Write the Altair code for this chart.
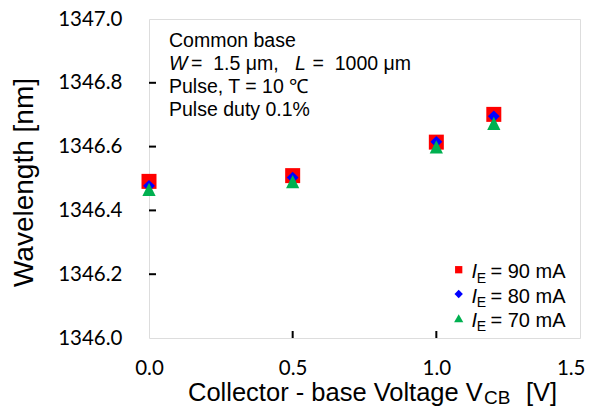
import altair as alt
import pandas as pd

# ---- data ----
vcb = [0.0, 0.5, 1.0, 1.2]
wl_90 = [1346.491, 1346.509, 1346.614, 1346.701]
wl_80 = [1346.477, 1346.503, 1346.615, 1346.695]
wl_70 = [1346.466, 1346.490, 1346.599, 1346.673]
series_labels = ["= 90 mA", "= 80 mA", "= 70 mA"]
colors = ["#FF0000", "#0000FF", "#00B050"]
y_ticks = [1346.0, 1346.2, 1346.4, 1346.6, 1346.8, 1347.0]
x_ticks = [0.0, 0.5, 1.0, 1.5]
notes = ["Common base", "Pulse, T = 10 \u2103", "Pulse duty 0.1%"]

W, H = 431, 319
FONT = "Liberation Sans"
TICKFONT = "Lato"
NB = "\u00a0"

xs = alt.Scale(domain=[0, 1.5], nice=False, zero=False)
ys = alt.Scale(domain=[1346.0, 1347.0], nice=False, zero=False)
x_axis = alt.Axis(values=x_ticks, format=".1f", ticks=False, grid=False, domain=False,
                  labelFont=TICKFONT, labelFontSize=20.5, labelPadding=20, labelFlush=False,
                  labelAlign={"condition": {"test": "datum.value >= 1.5", "value": "right"}, "value": "center"},
                  labelOffset={"condition": {"test": "datum.value >= 1.5", "value": 5}, "value": 0},
                  labelColor="black", labelOverlap=False, title=None)
y_axis = alt.Axis(values=y_ticks, format=".1f", ticks=False, grid=False, domain=False,
                  labelFont=TICKFONT, labelFontSize=20.5, labelPadding=27, labelFlush=False,
                  labelColor="black", labelOverlap=False, title=None)


def series_layer(yvals, color, shape, size):
    df = pd.DataFrame({"x": vcb, "y": yvals})
    return alt.Chart(df).mark_point(shape=shape, filled=True, color=color, size=size,
                                    opacity=1, strokeWidth=0).encode(
        x=alt.X("x:Q", scale=xs, axis=x_axis),
        y=alt.Y("y:Q", scale=ys, axis=y_axis),
    )


def label(text, x, y, size, italic=False, align="left", baseline="alphabetic", angle=0):
    df = pd.DataFrame({"t": [text]})
    kw = dict(align=align, baseline=baseline, font=FONT, fontSize=size, color="black")
    if italic:
        kw["fontStyle"] = "italic"
    if angle:
        kw["angle"] = angle
    return alt.Chart(df).mark_text(**kw).encode(text="t:N", x=alt.value(x), y=alt.value(y))


tri_path = "M0,-1L1,1L-1,1Z"

layers = [
    series_layer(wl_90, colors[0], "square", 225),
    series_layer(wl_80, colors[1], "diamond", 140),
    series_layer(wl_70, colors[2], tri_path, 175),
]

# inward ticks
yt = pd.DataFrame({"y": y_ticks[1:-1]})
xt = pd.DataFrame({"x": x_ticks[1:-1]})
layers.append(alt.Chart(yt).mark_rule(color="black", strokeWidth=2).encode(
    y=alt.Y("y:Q", scale=ys, axis=y_axis), x=alt.value(0), x2=alt.value(7)))
layers.append(alt.Chart(xt).mark_rule(color="black", strokeWidth=2).encode(
    x=alt.X("x:Q", scale=xs, axis=x_axis), y=alt.value(H), y2=alt.value(H - 7)))

# annotation
layers += [
    label(notes[0], 20, 28, 19.5),
    label("W", 20, 50.5, 19.5, italic=True),
    label("=" + NB + NB + "1.5 \u03bcm,", 42, 50.5, 19.5),
    label("L", 146, 50.5, 19.5, italic=True),
    label("=" + NB + NB + "1000 \u03bcm", 163.5, 50.5, 19.5),
    label(notes[1], 20, 73.5, 19.5),
    label(notes[2], 20, 96.5, 19.5),
]

# legend
leg_shapes = [("square", 53), ("diamond", 70), ("triangle-up", 85)]
leg_marker_y = [250.7, 275.0, 299.3]
leg_base_y = [259.3, 283.6, 307.9]
for i in range(3):
    shp, sz = leg_shapes[i]
    layers.append(alt.Chart(pd.DataFrame({"k": [series_labels[i]]})).mark_point(
        shape=shp, filled=True, color=colors[i], size=sz, opacity=1, strokeWidth=0).encode(
        x=alt.value(309.7), y=alt.value(leg_marker_y[i])))
    layers.append(label("I", 322.5, leg_base_y[i], 20, italic=True))
    layers.append(label("E", 327.7, leg_base_y[i] + 4.4, 14))
    layers.append(label(series_labels[i], 341.5, leg_base_y[i], 20))

# axis titles
layers.append(label("Wavelength [nm]", -124, 163.5, 28, align="center", baseline="middle", angle=270))
layers.append(label("Collector - base Voltage V", 39, 381.5, 25.5))
layers.append(label("CB", 335, 385, 19))
layers.append(label("[V]", 377, 381.5, 25.5))

chart = alt.layer(*layers).properties(
    width=W, height=H,
    padding={"left": 141, "top": 11, "right": 5, "bottom": 70},
    autosize="none",
).configure_view(stroke="black", strokeWidth=2.5).configure(background="white")

chart.save("out.html", embed_options={"renderer": "svg", "actions": False})
